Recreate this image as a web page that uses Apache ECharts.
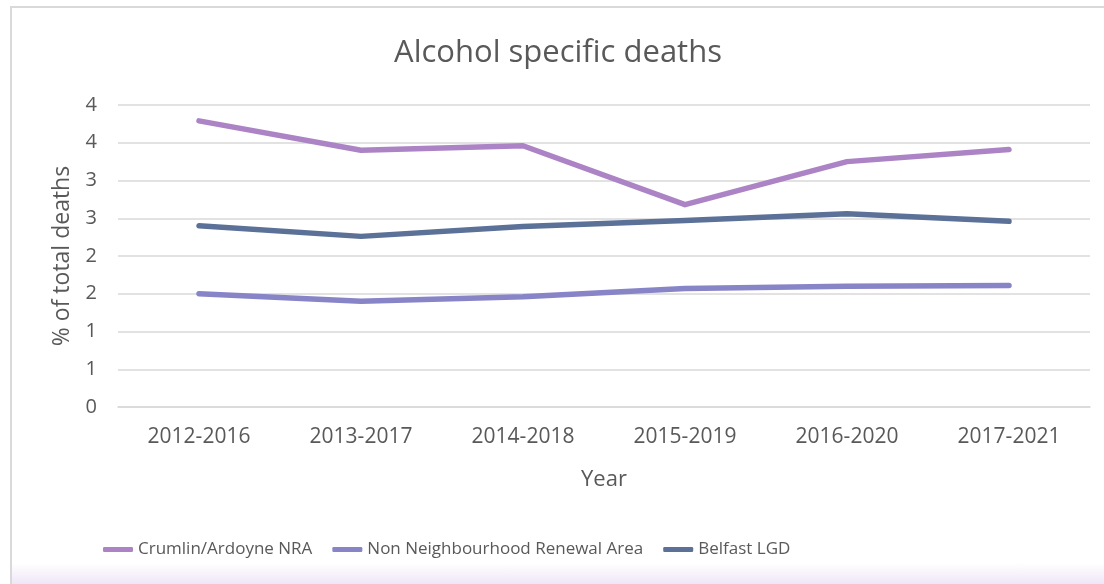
<!DOCTYPE html>
<html>
<head>
<meta charset="utf-8">
<script src="https://cdn.jsdelivr.net/npm/echarts@6/dist/echarts.min.js"></script>
<style>
  html, body { margin: 0; padding: 0; width: 1104px; height: 584px; overflow: hidden; background: #fff; }
  #frame {
    position: absolute; left: 10px; top: 6px; width: 1094px; height: 578px;
    border-left: 2px solid #d9d9d9; border-top: 2px solid #d9d9d9;
    background: linear-gradient(to bottom, #fff 0, #fff 555px, #ede4f6 578px);
  }
  #main { position: absolute; left: 12px; top: 8px; width: 1092px; height: 576px; }
</style>
</head>
<body>
<div id="frame"></div>
<div id="main"></div>
<script>
// periods on the x axis
const periods = ['2012-2016', '2013-2017', '2014-2018', '2015-2019', '2016-2020', '2017-2021'];
// % of total deaths
const crumlin = [3.79, 3.40, 3.46, 2.68, 3.25, 3.41];
const nonNRA  = [1.50, 1.40, 1.46, 1.57, 1.60, 1.61];
const belfast = [2.40, 2.26, 2.39, 2.47, 2.56, 2.46];

const seriesNames = ['Crumlin/Ardoyne NRA', 'Non Neighbourhood Renewal Area', 'Belfast LGD'];
const colors = ['#ac84c6', '#8884c8', '#5b7198'];

const txt = '#595959';
const font = "'Open Sans', 'Noto Sans', sans-serif";

const mkLine = (name, data, color) => ({
    name: name,
    type: 'line',
    data: data,
    symbol: 'none',
    lineStyle: { width: 5.5, color: color, cap: 'round', join: 'round' },
    itemStyle: { color: color }
});

const chart = echarts.init(document.getElementById('main'));
chart.setOption({
    animation: false,
    textStyle: { fontFamily: font },
    title: {
        text: 'Alcohol specific deaths',
        left: 'center',
        top: 25,
        textStyle: { fontSize: 31, fontWeight: 'normal', color: txt, fontFamily: font }
    },
    grid: { left: 106, right: 14, top: 97, bottom: 177 },
    xAxis: {
        type: 'category',
        data: periods,
        name: 'Year',
        nameLocation: 'middle',
        nameGap: 62,
        nameTextStyle: { fontSize: 22, color: txt },
        axisLine: { show: true, lineStyle: { color: '#d9d9d9', width: 1.5 } },
        axisTick: { show: false },
        axisLabel: { fontSize: 21, color: txt, margin: 20 }
    },
    yAxis: {
        type: 'value',
        min: 0,
        max: 4,
        interval: 0.5,
        name: '% of total deaths',
        nameLocation: 'middle',
        nameGap: 44,
        nameTextStyle: { fontSize: 23, color: txt },
        axisLine: { show: false },
        axisTick: { show: false },
        splitLine: { lineStyle: { color: '#d9d9d9', width: 1.5 } },
        axisLabel: { fontSize: 20, color: txt, margin: 21, formatter: v => Math.round(v) }
    },
    legend: {
        data: seriesNames,
        left: 86,
        top: 528,
        itemWidth: 30,
        itemHeight: 5,
        itemGap: 20,
        icon: 'roundRect',
        textStyle: { fontSize: 17, color: txt, fontFamily: font }
    },
    series: [
        mkLine(seriesNames[0], crumlin, colors[0]),
        mkLine(seriesNames[1], nonNRA, colors[1]),
        mkLine(seriesNames[2], belfast, colors[2])
    ]
});
</script>
</body>
</html>
